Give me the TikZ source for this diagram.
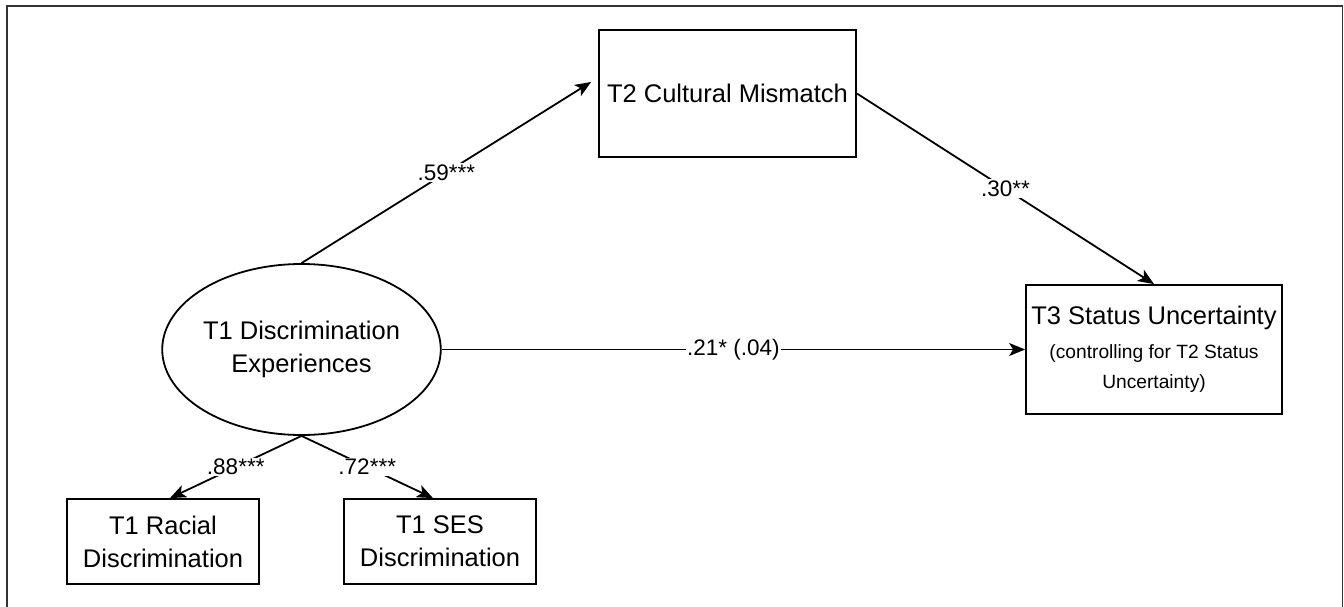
\documentclass[tikz,border=0pt]{standalone}
\usepackage{fontspec}
\setmainfont{Liberation Sans}
\usetikzlibrary{arrows.meta,shapes.geometric}
\begin{document}
\begin{tikzpicture}[x=1pt,y=-1pt,
  every node/.style={font=\fontsize{25.5}{33}\selectfont, text=black},
  boxnode/.style={draw, line width=1.8pt, inner sep=0pt, align=center},
  ellnode/.style={draw, ellipse, line width=1.8pt, inner sep=0pt, align=center},
  arr/.style={line width=1.8pt, -{Stealth[length=16pt,width=13pt,inset=4pt]}},
  lab/.style={fill=white, inner sep=1.5pt, font=\fontsize{22.5}{26}\selectfont}
]
\useasboundingbox (0,0) rectangle (1344,607);
\draw[line width=1.8pt, black!80] (6.6,607) -- (6.6,6) -- (1342.4,6) -- (1342.4,607);

\node[boxnode, minimum width=257pt, minimum height=127pt] (t2) at (727.5,93.5) {T2 Cultural Mismatch};
\node[boxnode, minimum width=256pt, minimum height=129pt, font=\fontsize{25.5}{30}\selectfont] (t3) at (1154,349.5)
  {T3 Status Uncertainty\\[4pt]{\fontsize{19.2}{30}\selectfont (controlling for T2 Status}\\{\fontsize{19.2}{30}\selectfont Uncertainty)}};
\node[ellnode, minimum width=257pt, minimum height=171pt] (ell) at (301.5,349.5) {T1 Discrimination\\Experiences};
\node[boxnode, minimum width=192pt, minimum height=85pt] (rac) at (163,541.5) {T1 Racial\\Discrimination};
\node[boxnode, minimum width=192pt, minimum height=85pt] (ses) at (440,541.5) {T1 SES\\Discrimination};

\draw[arr] (ell.north) -- ([xshift=-7pt,yshift=11.5pt]t2.west) node[lab, midway] {.59***};
\draw[arr] (t2.east) -- (t3.north) node[lab, midway] {.30**};
\draw[arr] (ell.east) -- (t3.west) node[lab, midway] {.21* (.04)};
\draw[arr] (ell.south) -- ([xshift=7pt]rac.north) node[lab, midway] {.88***};
\draw[arr] (ell.south) -- ([xshift=-7pt]ses.north) node[lab, midway] {.72***};
\end{tikzpicture}
\end{document}
